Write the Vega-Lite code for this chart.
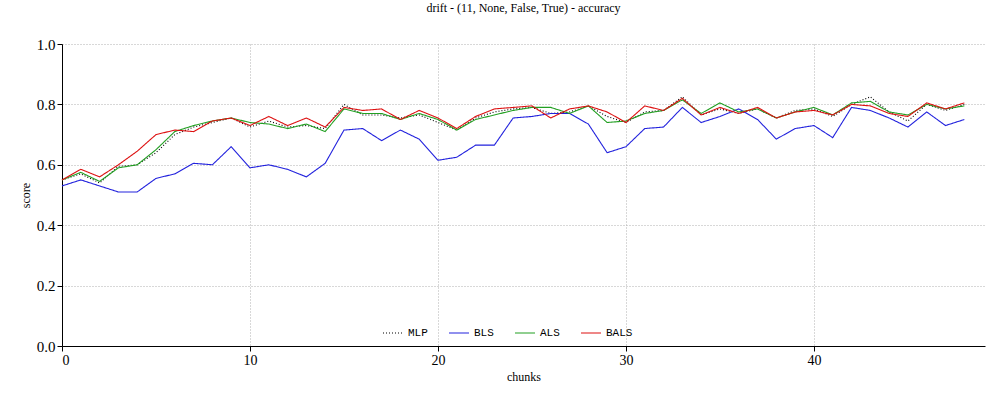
{
  "$schema": "https://vega.github.io/schema/vega-lite/v6.json",
  "autosize": "none",
  "width": 923,
  "height": 302,
  "padding": {"left": 62, "top": 44, "right": 15, "bottom": 54},
  "background": "white",
  "title": {"text": "drift - (11, None, False, True) - accuracy", "font": "Liberation Serif", "fontSize": 12, "fontWeight": "normal", "color": "black", "offset": 22},
  "config": {
    "view": {"stroke": null},
    "axis": {"labelFont": "Liberation Serif", "titleFont": "Liberation Serif", "labelFontSize": 15, "titleFontSize": 12, "titleFontWeight": "normal", "labelColor": "black", "titleColor": "black", "domainColor": "black", "tickColor": "black", "gridColor": "#b0b0b0", "gridDash": [1, 2]}
  },
  "data": {"values": [
    {"chunk":0,"MLP":0.55,"BLS":0.53,"ALS":0.55,"BALS":0.55},
    {"chunk":1,"MLP":0.57,"BLS":0.55,"ALS":0.575,"BALS":0.585},
    {"chunk":2,"MLP":0.54,"BLS":0.53,"ALS":0.545,"BALS":0.56},
    {"chunk":3,"MLP":0.595,"BLS":0.51,"ALS":0.59,"BALS":0.6},
    {"chunk":4,"MLP":0.6,"BLS":0.51,"ALS":0.6,"BALS":0.645},
    {"chunk":5,"MLP":0.64,"BLS":0.555,"ALS":0.65,"BALS":0.7},
    {"chunk":6,"MLP":0.7,"BLS":0.57,"ALS":0.71,"BALS":0.715},
    {"chunk":7,"MLP":0.725,"BLS":0.605,"ALS":0.73,"BALS":0.71},
    {"chunk":8,"MLP":0.74,"BLS":0.6,"ALS":0.745,"BALS":0.745},
    {"chunk":9,"MLP":0.755,"BLS":0.66,"ALS":0.755,"BALS":0.755},
    {"chunk":10,"MLP":0.725,"BLS":0.59,"ALS":0.74,"BALS":0.73},
    {"chunk":11,"MLP":0.745,"BLS":0.6,"ALS":0.735,"BALS":0.76},
    {"chunk":12,"MLP":0.725,"BLS":0.585,"ALS":0.72,"BALS":0.73},
    {"chunk":13,"MLP":0.73,"BLS":0.56,"ALS":0.735,"BALS":0.755},
    {"chunk":14,"MLP":0.72,"BLS":0.605,"ALS":0.71,"BALS":0.725},
    {"chunk":15,"MLP":0.8,"BLS":0.715,"ALS":0.785,"BALS":0.79},
    {"chunk":16,"MLP":0.765,"BLS":0.72,"ALS":0.77,"BALS":0.78},
    {"chunk":17,"MLP":0.765,"BLS":0.68,"ALS":0.77,"BALS":0.785},
    {"chunk":18,"MLP":0.755,"BLS":0.715,"ALS":0.75,"BALS":0.75},
    {"chunk":19,"MLP":0.765,"BLS":0.685,"ALS":0.77,"BALS":0.78},
    {"chunk":20,"MLP":0.74,"BLS":0.615,"ALS":0.75,"BALS":0.755},
    {"chunk":21,"MLP":0.715,"BLS":0.625,"ALS":0.715,"BALS":0.72},
    {"chunk":22,"MLP":0.755,"BLS":0.665,"ALS":0.75,"BALS":0.76},
    {"chunk":23,"MLP":0.775,"BLS":0.665,"ALS":0.765,"BALS":0.785},
    {"chunk":24,"MLP":0.785,"BLS":0.755,"ALS":0.78,"BALS":0.79},
    {"chunk":25,"MLP":0.79,"BLS":0.76,"ALS":0.79,"BALS":0.795},
    {"chunk":26,"MLP":0.77,"BLS":0.77,"ALS":0.79,"BALS":0.755},
    {"chunk":27,"MLP":0.775,"BLS":0.77,"ALS":0.77,"BALS":0.785},
    {"chunk":28,"MLP":0.795,"BLS":0.735,"ALS":0.795,"BALS":0.795},
    {"chunk":29,"MLP":0.76,"BLS":0.64,"ALS":0.74,"BALS":0.775},
    {"chunk":30,"MLP":0.74,"BLS":0.66,"ALS":0.745,"BALS":0.74},
    {"chunk":31,"MLP":0.775,"BLS":0.72,"ALS":0.77,"BALS":0.795},
    {"chunk":32,"MLP":0.78,"BLS":0.725,"ALS":0.78,"BALS":0.78},
    {"chunk":33,"MLP":0.825,"BLS":0.79,"ALS":0.815,"BALS":0.82},
    {"chunk":34,"MLP":0.765,"BLS":0.74,"ALS":0.77,"BALS":0.765},
    {"chunk":35,"MLP":0.785,"BLS":0.76,"ALS":0.805,"BALS":0.79},
    {"chunk":36,"MLP":0.77,"BLS":0.785,"ALS":0.775,"BALS":0.77},
    {"chunk":37,"MLP":0.785,"BLS":0.75,"ALS":0.785,"BALS":0.79},
    {"chunk":38,"MLP":0.755,"BLS":0.685,"ALS":0.755,"BALS":0.755},
    {"chunk":39,"MLP":0.78,"BLS":0.72,"ALS":0.775,"BALS":0.775},
    {"chunk":40,"MLP":0.785,"BLS":0.73,"ALS":0.79,"BALS":0.78},
    {"chunk":41,"MLP":0.76,"BLS":0.69,"ALS":0.765,"BALS":0.765},
    {"chunk":42,"MLP":0.8,"BLS":0.79,"ALS":0.805,"BALS":0.8},
    {"chunk":43,"MLP":0.825,"BLS":0.78,"ALS":0.81,"BALS":0.795},
    {"chunk":44,"MLP":0.775,"BLS":0.755,"ALS":0.775,"BALS":0.77},
    {"chunk":45,"MLP":0.745,"BLS":0.725,"ALS":0.765,"BALS":0.76},
    {"chunk":46,"MLP":0.8,"BLS":0.775,"ALS":0.8,"BALS":0.805},
    {"chunk":47,"MLP":0.78,"BLS":0.73,"ALS":0.785,"BALS":0.785},
    {"chunk":48,"MLP":0.8,"BLS":0.75,"ALS":0.795,"BALS":0.805}
  ]},
  "transform": [{"fold": ["MLP", "BLS", "ALS", "BALS"], "as": ["model", "score"]}],
  "mark": {"type": "line", "strokeWidth": 1.1},
  "encoding": {
    "x": {"field": "chunk", "type": "quantitative", "title": "chunks", "scale": {"domain": [0, 49.1], "nice": false}, "axis": {"values": [0, 10, 20, 30, 40], "labelFontSize": 14}},
    "y": {"field": "score", "type": "quantitative", "title": "score", "scale": {"domain": [0, 1], "nice": false}, "axis": {"values": [0, 0.2, 0.4, 0.6, 0.8, 1.0], "format": ".1f"}},
    "color": {"field": "model", "type": "nominal", "sort": ["MLP", "BLS", "ALS", "BALS"], "scale": {"domain": ["MLP", "BLS", "ALS", "BALS"], "range": ["black", "#2222dd", "#22a022", "#dd1111"]},
      "legend": {"title": null, "orient": "none", "direction": "horizontal", "legendX": 320, "legendY": 278, "labelFont": "Liberation Mono", "labelFontSize": 11, "labelFontWeight": "normal", "symbolType": "stroke", "symbolSize": 400, "symbolStrokeWidth": 1.2, "columnPadding": 18}},
    "strokeDash": {"field": "model", "type": "nominal", "scale": {"domain": ["MLP", "BLS", "ALS", "BALS"], "range": [[1, 2], [1, 0], [1, 0], [1, 0]]}, "legend": null}
  }
}
